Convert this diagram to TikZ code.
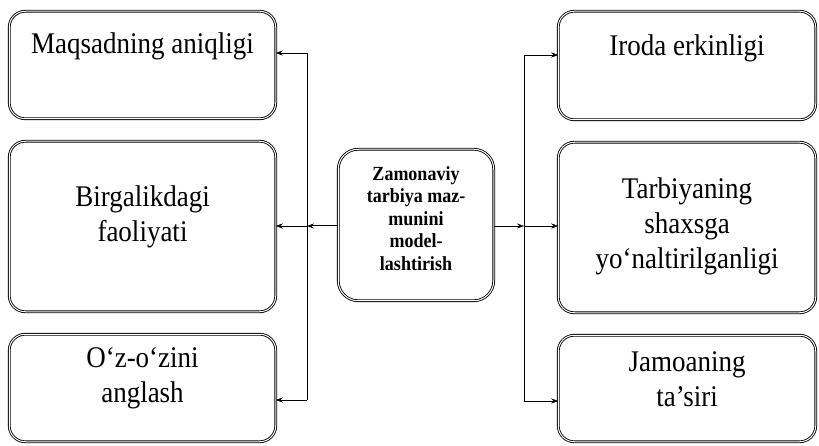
\documentclass[tikz,border=0pt]{standalone}
\usepackage{fontspec}
\setmainfont{Liberation Serif}[FakeStretch=0.9]
\usetikzlibrary{arrows.meta}
\begin{document}
\begin{tikzpicture}[x=1pt,y=-1pt,
  box/.style={draw, line width=0.85pt, double=white, double distance=1pt, rounded corners=16pt, outer sep=0pt, inner sep=0pt},
  txt/.style={font=\fontsize{30}{35}\selectfont, align=center, inner sep=0pt},
  ctxt/.style={font=\bfseries\fontsize{20}{22.5}\selectfont, align=center, inner sep=0pt},
  conn/.style={line width=0.6pt, -{Stealth[length=7pt,width=5pt]}},
  wire/.style={line width=0.6pt}]
\useasboundingbox (0,0) rectangle (819,446);
% left boxes
\node[box, minimum width=266.5pt, minimum height=107.5pt] (b1) at (142.5,65) {};
\node[box, minimum width=266.5pt, minimum height=170.5pt] (b2) at (142.5,226.5) {};
\node[box, minimum width=266.5pt, minimum height=107.5pt] (b3) at (142.5,388) {};
% right boxes
\node[box, minimum width=257.5pt, minimum height=108.5pt] (r1) at (687,65.5) {};
\node[box, minimum width=257.5pt, minimum height=170.5pt] (r2) at (687,227.5) {};
\node[box, minimum width=257.5pt, minimum height=106.5pt] (r3) at (687,388.5) {};
% centre box
\node[box, rounded corners=20pt, minimum width=155.5pt, minimum height=151.5pt] (c) at (416,225) {};
% texts
\node[txt] (tb1) at (142.5,46) {Maqsadning aniqligi};
\node[txt] (tb2) at (142.5,216.5) {Birgalikdagi\\faoliyati};
\node[txt] (tb3) at (142.5,378) {O‘z-o‘zini\\anglash};
\node[txt] (tr1) at (687,48.5) {Iroda erkinligi};
\node[txt] (tr2) at (687,226) {Tarbiyaning\\shaxsga\\yo‘naltirilganligi};
\node[txt] (tr3) at (687,379) {Jamoaning\\ta’siri};
\node[ctxt] (tc) at (416,218.5) {Zamonaviy\\tarbiya maz-\\munini\\model-\\lashtirish};
% left connectors
\coordinate (jl) at (307,226);
\coordinate (lt) at (307,53);
\coordinate (lb) at (307,400);
\draw[conn, line width=1pt] (c.west |- jl) -- (jl);
\draw[conn] (jl) -- (jl -| b2.east);
\draw[wire] (lt) -- (lb);
\draw[conn] (lt) -- (lt -| b1.east);
\draw[conn] (lb) -- (lb -| b3.east);
% right connectors
\coordinate (jr) at (524,226);
\coordinate (rt) at (524,55);
\coordinate (rb) at (524,401);
\draw[conn] (c.east |- jr) -- (jr);
\draw[conn] (jr) -- (jr -| r2.west);
\draw[wire] (rt) -- (rb);
\draw[conn] (rt) -- (rt -| r1.west);
\draw[conn] (rb) -- (rb -| r3.west);
\end{tikzpicture}
\end{document}
